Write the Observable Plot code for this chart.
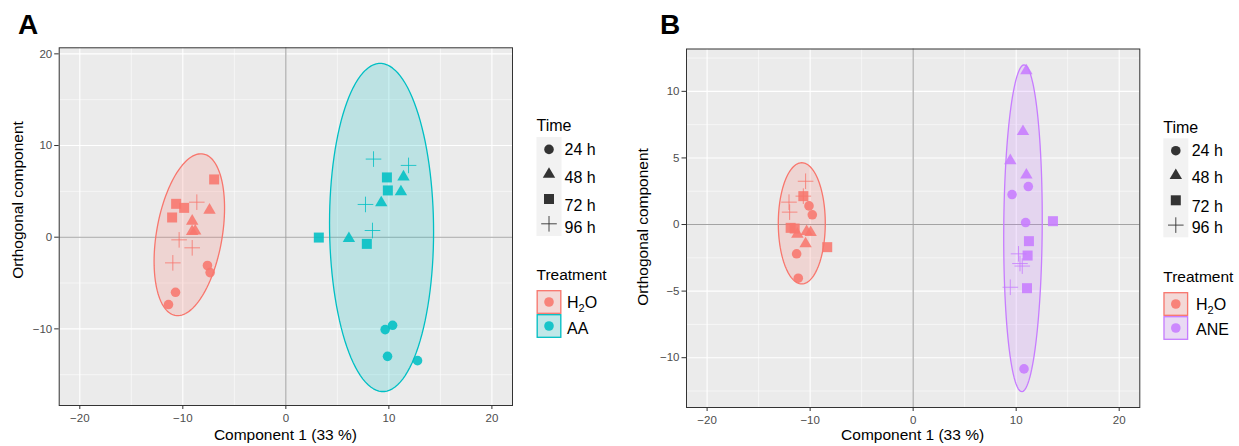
<!DOCTYPE html>
<html><head><meta charset="utf-8">
<script src="https://cdn.jsdelivr.net/npm/d3@7"></script>
<script src="https://cdn.jsdelivr.net/npm/@observablehq/plot@0.6"></script>
<style>
body{margin:0;background:#fff;}
#wrap{position:relative;width:1239px;height:446px;font-family:"Liberation Sans",Arial,sans-serif;overflow:hidden;}
#wrap svg{position:absolute;top:0;}
</style></head><body><div id="wrap"></div>
<script>
// ---------- data ----------
const times = ["24 h", "48 h", "72 h", "96 h"];
const xTicks = [-20, -10, 0, 10, 20];
const xMinor = [-15, -5, 5, 15];
const yTicksA = [-10, 0, 10, 20];
const yMinorA = [-15, -5, 5, 15];
const yTicksB = [-10, -5, 0, 5, 10];
const yMinorB = [-12.5, -7.5, -2.5, 2.5, 7.5, 12.5];

// Panel A: [time, component 1, orthogonal component]
const pointsA_H2O = [
  ["24 h", -7.61, -3.09], ["24 h", -7.35, -3.86], ["24 h", -10.71, -6.01], ["24 h", -11.39, -7.35],
  ["48 h", -7.41, 2.95], ["48 h", -9.09, 1.75], ["48 h", -9.1, 0.62], ["48 h", -8.8, 0.68],
  ["72 h", -6.96, 6.30], ["72 h", -10.65, 3.64], ["72 h", -9.87, 3.20], ["72 h", -11.04, 2.15],
  ["96 h", -8.64, 3.82], ["96 h", -10.36, -0.29], ["96 h", -9.09, -1.16], ["96 h", -10.97, -2.80]
];
const pointsA_AA = [
  ["24 h", 9.64, -10.08], ["24 h", 10.36, -9.61], ["24 h", 9.87, -13.0], ["24 h", 12.78, -13.47],
  ["48 h", 6.12, -0.15], ["48 h", 9.26, 3.75], ["48 h", 11.42, 6.58], ["48 h", 11.17, 4.95],
  ["72 h", 3.20, -0.04], ["72 h", 7.86, -0.73], ["72 h", 9.81, 6.52], ["72 h", 9.90, 5.10],
  ["96 h", 8.51, 8.52], ["96 h", 11.91, 7.83], ["96 h", 7.73, 3.57], ["96 h", 8.41, 0.73]
];
// Panel B
const pointsB_H2O = [
  ["24 h", -10.11, 1.40], ["24 h", -9.79, 0.73], ["24 h", -11.31, -2.20], ["24 h", -11.15, -4.03],
  ["48 h", -11.24, -0.72], ["48 h", -10.34, -0.52], ["48 h", -9.95, -0.60], ["48 h", -10.44, -1.45],
  ["72 h", -10.66, 2.13], ["72 h", -11.89, -0.25], ["72 h", -11.50, -0.30], ["72 h", -8.34, -1.70],
  ["96 h", -10.44, 3.25], ["96 h", -12.05, 1.68], ["96 h", -11.99, 0.93], ["96 h", -10.66, 2.13]
];
const pointsB_ANE = [
  ["24 h", 9.60, 2.25], ["24 h", 11.18, 2.85], ["24 h", 10.92, 0.15], ["24 h", 10.76, -10.84],
  ["48 h", 10.99, 11.55], ["48 h", 10.66, 6.98], ["48 h", 9.43, 4.80], ["48 h", 10.99, 3.72],
  ["72 h", 13.57, 0.25], ["72 h", 11.24, -1.25], ["72 h", 11.11, -2.33], ["72 h", 11.05, -4.78],
  ["96 h", 10.23, -2.20], ["96 h", 10.37, -2.93], ["96 h", 10.59, -3.12], ["96 h", 9.43, -4.71]
];
// 95% ellipses: [treatment, centre x, centre y, half-width x, half-height y, correlation]
const ellipsesA = [["H2O", -9.37, 0.27, 3.42, 8.83, 0.33], ["AA", 9.29, 1.06, 5.05, 17.9, -0.026]];
const ellipsesB = [["H2O", -10.81, 0.09, 2.28, 4.55, 0.0], ["ANE", 10.66, -0.28, 1.87, 12.27, 0.059]];

// ---------- styles ----------
const colors = {H2O: "#F8766D", AA: "#00BFC4", ANE: "#C77CFF"};
const FONT = "'Liberation Sans', Arial, Helvetica, sans-serif";
const symbols = {
  "24 h": {draw(c) { c.moveTo(4.8, 0); c.arc(0, 0, 4.8, 0, 2 * Math.PI); }},
  "48 h": {draw(c) { const w = 6.2, h = 10.6; c.moveTo(0, -h * 2 / 3); c.lineTo(w, h / 3); c.lineTo(-w, h / 3); c.closePath(); }},
  "72 h": {draw(c) { const s = 5; c.moveTo(-s, -s); c.lineTo(s, -s); c.lineTo(s, s); c.lineTo(-s, s); c.closePath(); }},
  "96 h": {draw(c) { const s = 7.8; c.moveTo(-s, 0); c.lineTo(s, 0); c.moveTo(0, -s); c.lineTo(0, s); }}
};

function ellipsePts(e) {
  const [tr, cx, cy, sx, sy, r] = e;
  return d3.range(0, 121).map(i => {
    const t = 2 * Math.PI * i / 120;
    return {tr, x: cx + sx * Math.cos(t), y: cy + sy * (r * Math.cos(t) + Math.sqrt(1 - r * r) * Math.sin(t))};
  });
}

function panel(o) {
  const marks = [
    Plot.frame({fill: "#ebebeb"}),
    Plot.gridX({ticks: xMinor, stroke: "#fff", strokeOpacity: 1, strokeWidth: 0.55}),
    Plot.gridY({ticks: o.yMinor, stroke: "#fff", strokeOpacity: 1, strokeWidth: 0.55}),
    Plot.gridX({ticks: xTicks, stroke: "#fff", strokeOpacity: 1, strokeWidth: 1.1}),
    Plot.gridY({ticks: o.yTicks, stroke: "#fff", strokeOpacity: 1, strokeWidth: 1.1}),
    Plot.ruleX([0], {stroke: "#a3a3a3", strokeWidth: 1.1}),
    Plot.ruleY([0], {stroke: "#a3a3a3", strokeWidth: 1.1})
  ];
  for (const e of o.ellipses) {
    marks.push(Plot.line(ellipsePts(e), {x: "x", y: "y", curve: "linear-closed",
      stroke: colors[e[0]], strokeWidth: 1.3, fill: colors[e[0]], fillOpacity: 0.2}));
  }
  for (const [tr, arr] of o.groups) {
    for (const t of times) {
      const rows = arr.filter(d => d[0] === t).map(d => ({x: d[1], y: d[2]}));
      if (t === "96 h") {
        marks.push(Plot.dot(rows, {x: "x", y: "y", symbol: symbols[t], fill: "none", stroke: colors[tr], strokeWidth: 0.9, strokeOpacity: 0.9}));
      } else {
        marks.push(Plot.dot(rows, {x: "x", y: "y", symbol: symbols[t], fill: colors[tr], fillOpacity: 0.88, stroke: "none"}));
      }
    }
  }
  marks.push(
    Plot.frame({stroke: "#333", strokeWidth: 1}),
    Plot.axisX({ticks: xTicks, tickFormat: d3.format("d"), tickSize: 4, tickPadding: 4, stroke: "#333", fill: "#4d4d4d", label: null}),
    Plot.axisY({ticks: o.yTicks, tickFormat: d3.format("d"), tickSize: 4.5, tickPadding: 2.5, stroke: "#333", fill: "#4d4d4d", label: null})
  );
  const svg = Plot.plot({
    width: o.width, height: 446,
    marginLeft: o.mL, marginRight: o.mR, marginTop: o.mT, marginBottom: o.mB,
    x: {domain: [-22, 22]}, y: {domain: o.yDomain},
    style: {fontFamily: FONT, fontSize: "11.5px", background: "transparent", overflow: "visible"},
    marks
  });
  svg.style.left = o.left + "px";
  document.getElementById("wrap").appendChild(svg);
}

panel({left: 0, width: 530, mL: 58.7, mR: 18, mT: 47.3, mB: 41, yDomain: [-18.36, 20.66],
  yTicks: yTicksA, yMinor: yMinorA, ellipses: ellipsesA, groups: [["H2O", pointsA_H2O], ["AA", pointsA_AA]]});
panel({left: 620, width: 540, mL: 66, mR: 20.7, mT: 48.5, mB: 39, yDomain: [-13.74, 13.18],
  yTicks: yTicksB, yMinor: yMinorB, ellipses: ellipsesB, groups: [["H2O", pointsB_H2O], ["ANE", pointsB_ANE]]});

// ---------- titles & legends overlay ----------
const ov = d3.select("#wrap").append("svg").attr("width", 1239).attr("height", 446)
  .style("left", "0px").attr("font-family", FONT);

ov.append("text").attr("x", 18).attr("y", 34).attr("font-size", 28).attr("font-weight", "bold").text("A");
ov.append("text").attr("x", 660).attr("y", 34).attr("font-size", 28).attr("font-weight", "bold").text("B");

ov.append("text").attr("x", 285.4).attr("y", 439.5).attr("text-anchor", "middle").attr("font-size", 15.5).text("Component 1 (33 %)");
ov.append("text").attr("x", 912.6).attr("y", 440).attr("text-anchor", "middle").attr("font-size", 15.5).text("Component 1 (33 %)");
ov.append("text").attr("transform", "translate(22.5,200) rotate(-90)").attr("text-anchor", "middle").attr("font-size", 15.5).text("Orthogonal component");
ov.append("text").attr("transform", "translate(648,227) rotate(-90)").attr("text-anchor", "middle").attr("font-size", 15.5).text("Orthogonal component");

function legend(L, treatments) {
  const g = ov.append("g");
  g.append("text").attr("x", L.x).attr("y", L.timeY).attr("font-size", 16).text("Time");
  g.append("rect").attr("x", L.x).attr("y", L.keyTop).attr("width", 25).attr("height", 99).attr("fill", "#f2f2f2");
  times.forEach((t, i) => {
    const cy = L.keyTop + 12.4 + i * 24.8;
    const p = d3.path(); symbols[t].draw(p);
    g.append("path").attr("d", p.toString()).attr("transform", `translate(${L.x + 12.5},${cy})`)
      .attr("fill", t === "96 h" ? "none" : "#333").attr("stroke", t === "96 h" ? "#333" : "none").attr("stroke-width", 0.9);
    g.append("text").attr("x", L.labelX).attr("y", L.labelY[i]).attr("font-size", 16).text(t);
  });
  g.append("text").attr("x", L.x).attr("y", L.trY).attr("font-size", 15.5).text("Treatment");
  treatments.forEach((tr, i) => {
    const top = L.boxTop + i * 24;
    g.append("rect").attr("x", L.x).attr("y", top).attr("width", 25).attr("height", 24).attr("fill", "#f2f2f2");
    g.append("rect").attr("x", L.x + 0.7).attr("y", top + 0.7).attr("width", 23.6).attr("height", 22.6)
      .attr("fill", colors[tr]).attr("fill-opacity", 0.2).attr("stroke", colors[tr]).attr("stroke-width", 1.3);
    g.append("circle").attr("cx", L.x + 12.5).attr("cy", top + 12).attr("r", 4.8).attr("fill", colors[tr]).attr("fill-opacity", 0.88);
    const tx = g.append("text").attr("x", L.trLabelX).attr("y", L.trLabelY[i]).attr("font-size", 16);
    if (tr === "H2O") {
      tx.append("tspan").text("H");
      tx.append("tspan").attr("font-size", 11).attr("dy", 4).text("2");
      tx.append("tspan").attr("dy", -4).text("O");
    } else tx.text(tr);
  });
}
legend({x: 536.5, timeY: 131, keyTop: 137, labelX: 564.5, labelY: [155, 182.5, 210.5, 232.5],
  trY: 280, boxTop: 290, trLabelX: 567, trLabelY: [307.5, 333.5]}, ["H2O", "AA"]);
legend({x: 1163.3, timeY: 133, keyTop: 138.3, labelX: 1191.7, labelY: [156, 183.3, 211.5, 232.7],
  trY: 281.5, boxTop: 292, trLabelX: 1196, trLabelY: [310, 335]}, ["H2O", "ANE"]);
</script></body></html>
